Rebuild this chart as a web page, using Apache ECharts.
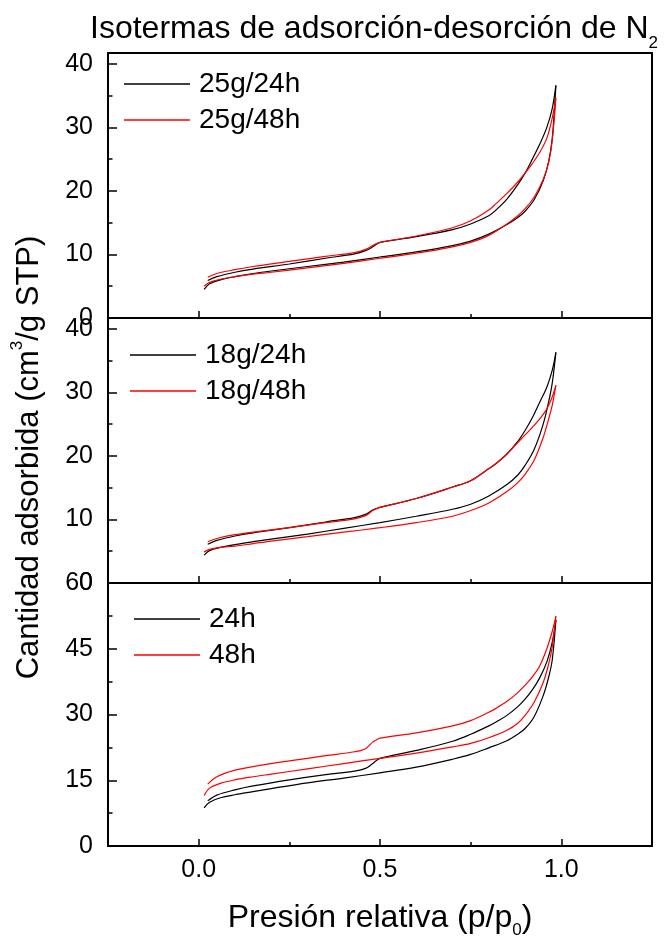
<!DOCTYPE html>
<html>
<head>
<meta charset="utf-8">
<script src="https://cdn.jsdelivr.net/npm/echarts@6/dist/echarts.min.js"></script>
<style>
html, body { margin: 0; padding: 0; background: #fff; }
#chart { width: 670px; height: 940px; }
</style>
</head>
<body>
<div id="chart"></div>
<script>
// relative pressure, adsorption branch (going up) and desorption branch (going down)
var pAds = [0.015, 0.03, 0.06, 0.1, 0.15, 0.2, 0.3, 0.4, 0.5, 0.6, 0.7, 0.75, 0.8, 0.85, 0.88, 0.9, 0.925, 0.95, 0.965, 0.975, 0.985];
var pDes = [0.985, 0.975, 0.96, 0.94, 0.92, 0.9, 0.88, 0.85, 0.82, 0.8, 0.75, 0.7, 0.6, 0.5, 0.49, 0.48, 0.46, 0.43, 0.35, 0.25, 0.15, 0.1, 0.05, 0.025];

// panel 1
var ads25g24h = [4.5, 5.4, 6.0, 6.5, 7.0, 7.4, 8.1, 8.8, 9.6, 10.4, 11.4, 12.1, 13.2, 14.7, 15.8, 16.8, 18.6, 21.6, 24.6, 28.3, 36.6];
var des25g24h = [36.6, 33.0, 30.0, 27.3, 25.0, 22.8, 21.0, 18.7, 17.0, 16.1, 14.8, 13.9, 12.8, 11.9, 11.6, 11.2, 10.6, 10.1, 9.4, 8.5, 7.7, 7.2, 6.5, 5.9];
var ads25g48h = [5.0, 5.6, 6.1, 6.5, 6.9, 7.2, 7.9, 8.6, 9.4, 10.2, 11.2, 11.9, 13.0, 14.8, 16.1, 17.2, 19.0, 21.8, 24.5, 28.0, 34.6];
var des25g48h = [34.6, 31.5, 28.3, 26.0, 24.3, 22.8, 21.4, 19.6, 18.0, 17.0, 15.3, 14.2, 12.9, 11.9, 11.7, 11.4, 10.8, 10.3, 9.7, 8.9, 8.1, 7.6, 7.0, 6.4];

// panel 2
var ads18g24h = [4.4, 5.1, 5.6, 6.05, 6.5, 6.9, 7.7, 8.6, 9.5, 10.5, 11.6, 12.4, 13.7, 15.5, 17.0, 18.5, 21.0, 25.0, 28.5, 31.5, 36.3];
var des18g24h = [36.3, 33.5, 30.8, 28.4, 26.0, 24.0, 22.3, 20.3, 18.8, 18.0, 16.1, 15.1, 13.3, 11.9, 11.7, 11.5, 10.8, 10.3, 9.6, 8.7, 7.9, 7.4, 6.7, 6.1];
var ads18g48h = [4.9, 5.3, 5.6, 5.8, 6.2, 6.6, 7.3, 8.0, 8.7, 9.5, 10.5, 11.4, 12.6, 14.4, 15.8, 17.1, 19.3, 22.9, 25.8, 28.0, 31.1];
var des18g48h = [31.1, 29.3, 27.4, 25.8, 24.5, 23.3, 22.1, 20.3, 18.8, 18.0, 16.1, 15.1, 13.3, 11.9, 11.7, 11.4, 10.6, 10.1, 9.5, 8.7, 8.0, 7.6, 7.0, 6.5];

// panel 3
var ads24h = [8.7, 10.0, 11.0, 11.7, 12.4, 13.1, 14.4, 15.5, 16.7, 18.0, 19.8, 20.9, 22.4, 24.0, 25.5, 26.8, 29.5, 34.3, 38.5, 42.5, 51.6];
var des24h = [51.6, 46.5, 42.0, 38.3, 35.6, 33.5, 31.8, 29.8, 28.3, 27.4, 25.5, 23.9, 21.8, 20.0, 19.5, 18.8, 17.7, 17.1, 16.3, 15.1, 13.7, 12.8, 11.6, 10.3];
var ads48h = [11.5, 13.2, 14.3, 15.1, 15.8, 16.4, 17.6, 18.8, 20.0, 21.2, 22.6, 23.4, 24.7, 26.4, 28.0, 29.8, 32.8, 37.3, 41.5, 45.5, 52.4];
var des48h = [52.4, 49.0, 45.0, 41.0, 38.6, 36.7, 35.0, 33.0, 31.4, 30.5, 28.6, 27.4, 25.8, 24.6, 24.2, 23.7, 22.2, 21.5, 20.6, 19.4, 18.1, 17.3, 15.8, 14.1];

// axis ticks
var xMajor = [0, 0.5, 1];
var xMinor = [0.25, 0.75];
var yMajor40 = [0, 10, 20, 30, 40];
var yMinor40 = [5, 15, 25, 35];
var yMajor60 = [0, 15, 30, 45, 60];
var yMinor60 = [7.5, 22.5, 37.5, 52.5];

var FONT = 'Liberation Sans';

function zip(xs, ys) {
    return xs.map(function (x, i) { return [x, ys[i]]; });
}

var panels = [
    { top: 53, max: 41.7, major: yMajor40, minor: yMinor40, names: ['25g/24h', '25g/48h'],
      data: [[ads25g24h, des25g24h], [ads25g48h, des25g48h]], legendLeft: 124, legendTop: 70 },
    { top: 318, max: 41.7, major: yMajor40, minor: yMinor40, names: ['18g/24h', '18g/48h'],
      data: [[ads18g24h, des18g24h], [ads18g48h, des18g48h]], legendLeft: 130, legendTop: 341 },
    { top: 583, max: 60, major: yMajor60, minor: yMinor60, names: ['24h', '48h'],
      data: [[ads24h, des24h], [ads48h, des48h]], legendLeft: 134, legendTop: 605 }
];
var colors = ['#000000', '#ff0000'];

var grid = [], xAxis = [], yAxis = [], series = [], legend = [];

panels.forEach(function (p, g) {
    var last = g === panels.length - 1;
    grid.push({ left: 108, right: 18, top: p.top, height: 265, show: true,
        borderColor: '#000', borderWidth: 2, containLabel: false });

    // major x ticks (labels only on the bottom panel)
    xAxis.push({
        gridIndex: g, type: 'value', min: -0.25, max: 1.25, position: 'bottom',
        axisLine: { show: false, onZero: false },
        splitLine: { show: false },
        axisTick: { inside: true, length: 7, customValues: xMajor, lineStyle: { color: '#000', width: 1.5 } },
        axisLabel: { show: last, customValues: xMajor, margin: 12, color: '#000', fontSize: 25, fontFamily: FONT,
            formatter: function (v) { return v.toFixed(1); } },
        name: last ? 'Presión relativa (p/p{sub|0})' : '',
        nameLocation: 'middle', nameGap: 56,
        nameTextStyle: { color: '#000', fontSize: 32, fontFamily: FONT, lineHeight: 32,
            rich: { sub: { fontSize: 17, fontFamily: FONT, color: '#000', lineHeight: 17, padding: [25, 0, 0, 0] } } }
    });
    // minor x ticks
    xAxis.push({
        gridIndex: g, type: 'value', min: -0.25, max: 1.25, position: 'bottom',
        axisLine: { show: false, onZero: false }, splitLine: { show: false }, axisLabel: { show: false },
        axisTick: { inside: true, length: 4, customValues: xMinor, lineStyle: { color: '#000', width: 1.5 } }
    });

    yAxis.push({
        gridIndex: g, type: 'value', min: 0, max: p.max, position: 'left',
        axisLine: { show: false, onZero: false },
        splitLine: { show: false },
        axisTick: { inside: true, length: 9, customValues: p.major, lineStyle: { color: '#000', width: 1.5 } },
        axisLabel: { customValues: p.major, margin: 15, color: '#000', fontSize: 25, fontFamily: FONT },
        name: g === 1 ? 'Cantidad adsorbida (cm{sup|3}/g STP)' : '',
        nameLocation: 'middle', nameRotate: 90, nameGap: 63,
        nameTextStyle: { color: '#000', fontSize: 31, fontFamily: FONT, padding: [0, 14, 0, 0],
            rich: { sup: { fontSize: 17, fontFamily: FONT, color: '#000', lineHeight: 17, padding: [0, 0, 24, 0] } } }
    });
    yAxis.push({
        gridIndex: g, type: 'value', min: 0, max: p.max, position: 'left',
        axisLine: { show: false, onZero: false }, splitLine: { show: false }, axisLabel: { show: false },
        axisTick: { inside: true, length: 4.5, customValues: p.minor, lineStyle: { color: '#000', width: 1.5 } }
    });

    p.names.forEach(function (name, k) {
        [zip(pAds, p.data[k][0]), zip(pDes, p.data[k][1])].forEach(function (d) {
            series.push({
                name: name, type: 'line', xAxisIndex: 2 * g, yAxisIndex: 2 * g,
                data: d, symbol: 'none', showSymbol: false,
                smooth: 0.35,
                lineStyle: { color: colors[k], width: 1.2 },
                itemStyle: { color: colors[k] },
                z: 2 + k
            });
        });
    });

    legend.push({
        data: p.names, orient: 'vertical', left: p.legendLeft, top: p.legendTop,
        icon: 'rect', itemWidth: 66, itemHeight: 1.4, itemGap: 8, padding: 0,
        selectedMode: false,
        textStyle: { color: '#000', fontSize: 28, fontFamily: FONT, lineHeight: 28, padding: [0, 0, 0, 4] }
    });
});

var chart = echarts.init(document.getElementById('chart'));
chart.setOption({
    animation: false,
    backgroundColor: '#fff',
    title: {
        text: '{a|Isotermas de adsorción-desorción de N}{s|2}',
        left: 90, top: 13, padding: 0,
        textStyle: {
            fontWeight: 'normal',
            rich: {
                a: { fontSize: 32, fontFamily: FONT, fontWeight: 'normal', color: '#000', lineHeight: 32 },
                s: { fontSize: 17, fontFamily: FONT, fontWeight: 'normal', color: '#000', lineHeight: 17, padding: [29, 0, 0, 0] }
            }
        }
    },
    legend: legend,
    grid: grid,
    xAxis: xAxis,
    yAxis: yAxis,
    series: series
});
</script>
</body>
</html>
